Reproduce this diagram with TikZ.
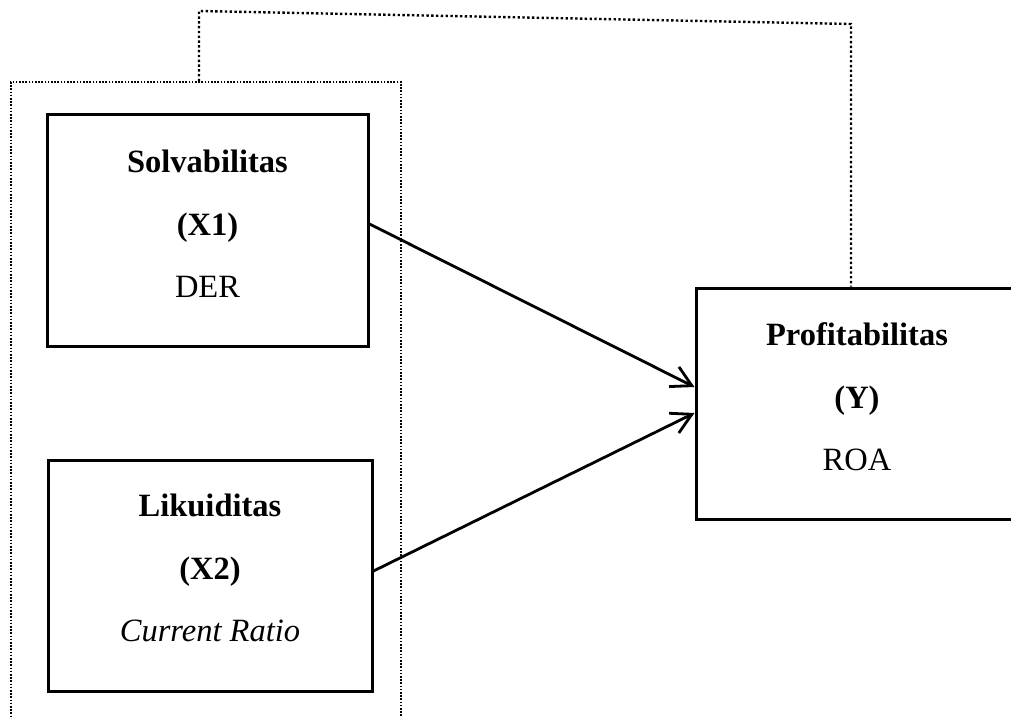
\documentclass[tikz,border=0pt]{standalone}
\usepackage{fontspec}
\setmainfont{Liberation Serif}
\usetikzlibrary{arrows.meta}
\begin{document}
\begin{tikzpicture}[x=1pt,y=-1pt,
  varbox/.style={draw,line width=3pt,rectangle,minimum width=#1,minimum height=231pt,inner sep=0pt},
  vartext/.style={align=center,font=\fontsize{32.5}{62.5}\selectfont,inner sep=0pt},
  grpbox/.style={draw,line width=1.6pt,dash pattern=on 1.6pt off 1.6pt,rectangle,inner sep=0pt},
  dotline/.style={line width=2.4pt,dash pattern=on 2.4pt off 2.4pt},
  arr/.style={line width=2.8pt,-{Straight Barb[length=20pt,width=22pt,line width=2.8pt]}}]
\useasboundingbox (0,0) rectangle (1011,717);
% group frame (continues below the page)
\node[grpbox,minimum width=390pt,minimum height=740pt] (grp) at (206,452) {};
% boxes
\node[varbox=321pt,minimum height=232pt] (solv) at (207.5,230) {};
\node[vartext] (solvtxt) at (207.5,224) {\textbf{Solvabilitas}\\\textbf{(X1)}\\DER};
\node[varbox=324pt] (liku) at (210,575.5) {};
\node[vartext] (likutxt) at (210,568) {\textbf{Likuiditas}\\\textbf{(X2)}\\\textit{Current Ratio}};
\node[varbox=324pt] (prof) at (858,403.5) {};
\node[vartext] (proftxt) at (857,397) {\textbf{Profitabilitas}\\\textbf{(Y)}\\ROA};
% arrows
\draw[arr] ([yshift=6pt]solv.east) -- ([yshift=16.5pt]prof.west);
\draw[arr] ([yshift=4.5pt]liku.east) -- ([yshift=-9.5pt]prof.west);
% dotted link
\coordinate (c1) at (199,11);
\coordinate (c2) at (851,24);
\draw[dotline] ([xshift=-7pt]grp.north) -- (c1) -- (c2) -- ([xshift=-7pt]prof.north);
\end{tikzpicture}
\end{document}
